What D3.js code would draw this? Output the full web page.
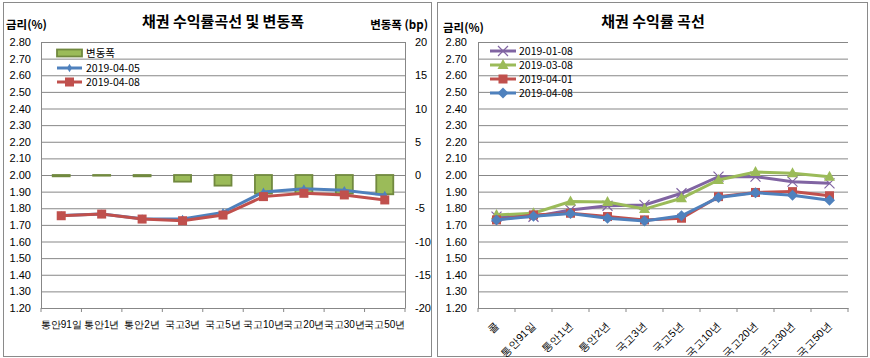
<!DOCTYPE html>
<html><head><meta charset="utf-8">
<script src="https://cdn.jsdelivr.net/npm/d3@7/dist/d3.min.js"></script>
<style>
body{margin:0;background:#fff;}
svg{display:block;font-family:"Noto Sans CJK KR","Noto Sans",sans-serif;}
</style></head><body>
<svg id="c" width="870" height="358"></svg>
<script>
// ---- data ----
const leftCategories = ["통안91일","통안1년","통안2년","국고3년","국고5년","국고10년","국고20년","국고30년","국고50년"];
const leftSeriesNames = ["변동폭","2019-04-05","2019-04-08"];
const change = [-0.2,-0.1,-0.2,-1.0,-1.6,-2.8,-2.8,-2.8,-2.9];
const y0405 = [1.757,1.766,1.737,1.735,1.775,1.898,1.918,1.908,1.879];
const y0408 = [1.755,1.765,1.735,1.725,1.759,1.870,1.890,1.880,1.850];

const rightCategories = ["콜","통안91일","통안1년","통안2년","국고3년","국고5년","국고10년","국고20년","국고30년","국고50년"];
const rightSeriesNames = ["2019-01-08","2019-03-08","2019-04-01","2019-04-08"];
const r0108 = [1.750,1.749,1.790,1.815,1.820,1.890,1.990,1.990,1.960,1.950];
const r0308 = [1.760,1.770,1.840,1.838,1.795,1.860,1.970,2.018,2.010,1.990];
const r0401 = [1.730,1.760,1.770,1.750,1.730,1.740,1.870,1.895,1.900,1.875];
const r0408 = [1.730,1.752,1.768,1.740,1.723,1.755,1.865,1.893,1.878,1.848];

const yTicks = d3.range(12,29).map(d=>d/10);
const y2Ticks = [-20,-15,-10,-5,0,5,10,15,20];

// ---- styles ----
const C = {blue:"#4F81BD", red:"#C0504D", green:"#9BBB59", greenDark:"#71893F", purple:"#8064A2", grid:"#878787", text:"#000"};
const svg = d3.select("#c");

// panel frames
svg.append("rect").attr("x",3.5).attr("y",2.5).attr("width",428).attr("height",354).attr("fill","#fff").attr("stroke","#8a8a8a");
svg.append("rect").attr("x",437.5).attr("y",2.5).attr("width",430).attr("height",354).attr("fill","#fff").attr("stroke","#8a8a8a");

function styleAxis(g){
  g.selectAll("text").attr("fill",C.text).style("font-size","11px");
  g.selectAll("line").attr("stroke",C.grid);
  g.select(".domain").remove();
}

// ================= LEFT CHART =================
{
  const L=41, R=405, T=42, B=308;
  const x = d3.scaleBand().domain(leftCategories).range([L,R]);
  const y = d3.scaleLinear().domain([1.2,2.8]).range([B,T]);
  const y2 = d3.scaleLinear().domain([-20,20]).range([B,T]);
  const g = svg.append("g");

  g.append("text").attr("x",223).attr("y",27).attr("text-anchor","middle").style("font-size","15px").style("font-weight","bold").text("채권 수익률곡선 및 변동폭");
  g.append("text").attr("x",6).attr("y",29).style("font-size","11.5px").style("font-weight","bold").text("금리(%)");
  g.append("text").attr("x",428).attr("y",29).attr("text-anchor","end").style("font-size","11.5px").style("font-weight","bold").text("변동폭 (bp)");

  const ga = g.append("g").attr("transform",`translate(${L},0)`)
    .call(d3.axisLeft(y).tickValues(yTicks).tickFormat(d3.format(".2f")).tickSize(-(R-L)).tickPadding(10));
  styleAxis(ga);
  const gb = g.append("g").attr("transform",`translate(${R},0)`)
    .call(d3.axisRight(y2).tickValues(y2Ticks).tickFormat(d=>String(d)).tickSize(0).tickPadding(10));
  styleAxis(gb);
  gb.selectAll("text").attr("text-anchor","start");

  // axis lines
  g.append("line").attr("x1",L+0.5).attr("x2",L+0.5).attr("y1",T).attr("y2",B).attr("stroke",C.grid);
  g.append("line").attr("x1",R+0.5).attr("x2",R+0.5).attr("y1",T).attr("y2",B).attr("stroke",C.grid);
  const gx = g.append("g").attr("transform",`translate(0,${B})`)
    .call(d3.axisBottom(x).tickSize(0).tickPadding(13));
  gx.selectAll("text").attr("fill",C.text).style("font-size","10px");
  gx.select(".domain").attr("stroke",C.grid);
  // boundary tick marks
  g.selectAll(".bt").data(d3.range(leftCategories.length+1)).join("line")
    .attr("x1",i=>L+i*x.step()).attr("x2",i=>L+i*x.step()).attr("y1",B).attr("y2",B+4).attr("stroke",C.grid);

  // bars
  const bw = 17;
  g.selectAll(".bar").data(change).join("rect")
    .attr("x",(d,i)=>x(leftCategories[i])+x.bandwidth()/2-bw/2)
    .attr("y",d=>Math.min(y2(0),y2(d)))
    .attr("width",bw)
    .attr("height",d=>Math.abs(y2(d)-y2(0)))
    .attr("fill",C.green).attr("stroke",C.greenDark).attr("stroke-width",1.8);

  const line = d3.line().x((d,i)=>x(leftCategories[i])+x.bandwidth()/2).y(d=>y(d));
  g.append("path").datum(y0405).attr("d",line).attr("fill","none").attr("stroke",C.blue).attr("stroke-width",3);
  g.selectAll(".bm").data(y0405).join("path")
    .attr("transform",(d,i)=>`translate(${x(leftCategories[i])+x.bandwidth()/2},${y(d)})`)
    .attr("d",d3.symbol(d3.symbolDiamond,22)).attr("fill",C.blue);
  g.append("path").datum(y0408).attr("d",line).attr("fill","none").attr("stroke",C.red).attr("stroke-width",3);
  g.selectAll(".rm").data(y0408).join("rect")
    .attr("x",(d,i)=>x(leftCategories[i])+x.bandwidth()/2-4.5).attr("y",d=>y(d)-4.5)
    .attr("width",9).attr("height",9).attr("fill",C.red);

  // legend
  const lg = g.append("g");
  const ly = [53,68,82];
  lg.append("rect").attr("x",57).attr("y",ly[0]-3.5).attr("width",25).attr("height",7).attr("fill",C.green).attr("stroke",C.greenDark).attr("stroke-width",1.8);
  lg.append("line").attr("x1",57).attr("x2",82).attr("y1",ly[1]).attr("y2",ly[1]).attr("stroke",C.blue).attr("stroke-width",3);
  lg.append("path").attr("transform",`translate(69.5,${ly[1]})`).attr("d",d3.symbol(d3.symbolDiamond,22)).attr("fill",C.blue);
  lg.append("line").attr("x1",57).attr("x2",82).attr("y1",ly[2]).attr("y2",ly[2]).attr("stroke",C.red).attr("stroke-width",3);
  lg.append("rect").attr("x",65).attr("y",ly[2]-4.5).attr("width",9).attr("height",9).attr("fill",C.red);
  lg.selectAll("text").data(leftSeriesNames).join("text")
    .attr("x",86).attr("y",(d,i)=>ly[i]+4).style("font-size","10.5px").text(d=>d);
}

// ================= RIGHT CHART =================
{
  const L=478, R=848, T=42, B=308;
  const x = d3.scaleBand().domain(rightCategories).range([L,R]);
  const y = d3.scaleLinear().domain([1.2,2.8]).range([B,T]);
  const g = svg.append("g");
  const cx = i=>x(rightCategories[i])+x.bandwidth()/2;

  g.append("text").attr("x",653).attr("y",27).attr("text-anchor","middle").style("font-size","15px").style("font-weight","bold").text("채권 수익률 곡선");
  g.append("text").attr("x",443).attr("y",32).style("font-size","11.5px").style("font-weight","bold").text("금리(%)");

  const ga = g.append("g").attr("transform",`translate(${L},0)`)
    .call(d3.axisLeft(y).tickValues(yTicks).tickFormat(d3.format(".2f")).tickSize(-(R-L)).tickPadding(11));
  styleAxis(ga);
  g.append("line").attr("x1",L+0.5).attr("x2",L+0.5).attr("y1",T).attr("y2",B).attr("stroke",C.grid);

  const gx = g.append("g").attr("transform",`translate(0,${B})`)
    .call(d3.axisBottom(x).tickSize(0).tickPadding(0));
  gx.select(".domain").attr("stroke",C.grid);
  gx.selectAll("text").attr("fill",C.text).style("font-size","10.5px")
    .attr("text-anchor","end").attr("dy",0)
    .attr("transform","translate(3,18) rotate(-45)");
  g.selectAll(".bt").data(d3.range(rightCategories.length+1)).join("line")
    .attr("x1",i=>L+i*x.step()).attr("x2",i=>L+i*x.step()).attr("y1",B).attr("y2",B+4).attr("stroke",C.grid);

  const line = d3.line().x((d,i)=>cx(i)).y(d=>y(d));
  const series = [
    {name:rightSeriesNames[0], data:r0108, color:C.purple, m:"x"},
    {name:rightSeriesNames[1], data:r0308, color:C.green, m:"tri"},
    {name:rightSeriesNames[2], data:r0401, color:C.red, m:"sq"},
    {name:rightSeriesNames[3], data:r0408, color:C.blue, m:"dia"}
  ];
  function marker(sel, s){
    if(s.m==="sq") sel.append("rect").attr("x",-4.5).attr("y",-4.5).attr("width",9).attr("height",9).attr("fill",s.color);
    else if(s.m==="tri") sel.append("path").attr("d","M0,-6L5.5,4L-5.5,4Z").attr("fill",s.color);
    else if(s.m==="dia") sel.append("path").attr("d","M0,-5.5L5.5,0L0,5.5L-5.5,0Z").attr("fill",s.color);
    else sel.append("path").attr("d","M-5,-5L5,5M-5,5L5,-5").attr("stroke",s.color).attr("stroke-width",1.2);
  }
  series.forEach(s=>{
    g.append("path").datum(s.data).attr("d",line).attr("fill","none").attr("stroke",s.color).attr("stroke-width",3);
    s.data.forEach((d,i)=>{
      const mg = g.append("g").attr("transform",`translate(${cx(i)},${y(d)})`);
      marker(mg,s);
    });
  });

  const ly=[51,65,79,93];
  series.forEach((s,i)=>{
    g.append("line").attr("x1",490).attr("x2",516).attr("y1",ly[i]).attr("y2",ly[i]).attr("stroke",s.color).attr("stroke-width",3);
    const mg = g.append("g").attr("transform",`translate(503,${ly[i]})`);
    marker(mg,s);
    g.append("text").attr("x",519).attr("y",ly[i]+4).style("font-size","10.5px").text(s.name);
  });
}
</script>
</body></html>
